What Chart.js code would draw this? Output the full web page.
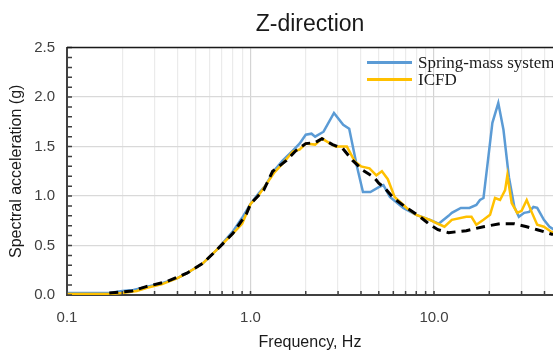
<!DOCTYPE html>
<html>
<head>
<meta charset="utf-8">
<script src="https://cdn.jsdelivr.net/npm/chart.js@4"></script>
<style>
  body { margin: 0; background: #fff; overflow: hidden; }
  #wrap { position: relative; width: 553px; height: 352px; }
  #legend { position: absolute; left: 367px; top: 54px; margin: 0; padding: 0; list-style: none;
    font: 17px "Liberation Serif", "Times New Roman", serif; color: #1a1a1a; white-space: nowrap; }
  #legend li { display: flex; align-items: center; height: 17.3px; }
  #legend .swatch { display: inline-block; width: 45px; height: 3px; margin-right: 6px; }
</style>
</head>
<body>
<div id="wrap">
  <canvas id="grafico"></canvas>
  <ul id="legend"></ul>
</div>
<script>
// Spring-mass system (blue)
const springFreq = [0.1, 0.15, 0.17, 0.2, 0.23, 0.27, 0.33, 0.4, 0.45, 0.55, 0.65, 0.8, 0.9, 1.0, 1.1, 1.2, 1.35, 1.5, 1.7, 1.85,
  2.0, 2.15, 2.25, 2.5, 2.85, 3.2, 3.45, 3.8, 4.1, 4.5, 5.0, 5.3, 5.75, 6.8, 8.0, 9.5, 10.6, 12, 12.5, 14, 15.6, 17, 17.8, 18.6,
  19.5, 20.8, 22.4, 23.9, 25.6, 27.4, 29, 31, 33, 34.8, 36.5, 39.7, 42.6, 45, 50];
const springAcc = [0.02, 0.02, 0.02, 0.04, 0.05, 0.08, 0.12, 0.17, 0.22, 0.32, 0.45, 0.64, 0.78, 0.92, 1.02, 1.1, 1.26, 1.36, 1.46, 1.53,
  1.62, 1.63, 1.60, 1.65, 1.84, 1.72, 1.68, 1.30, 1.04, 1.04, 1.09, 1.11, 0.99, 0.88, 0.81, 0.76, 0.72, 0.80, 0.83, 0.88, 0.88, 0.91, 0.96, 0.98,
  1.30, 1.74, 1.94, 1.67, 1.19, 0.89, 0.79, 0.83, 0.84, 0.89, 0.88, 0.76, 0.69, 0.66, 0.64];

// ICFD (yellow)
const icfdFreq = [0.1, 0.17, 0.2, 0.24, 0.27, 0.33, 0.4, 0.45, 0.55, 0.65, 0.8, 0.9, 1.0, 1.1, 1.2, 1.35, 1.5, 1.7, 1.85, 2.0,
  2.25, 2.45, 2.9, 3.35, 3.7, 4.0, 4.45, 4.85, 5.2, 5.6, 6.1, 7.1, 8.0, 9.5, 10.5, 11.4, 12.5, 15, 16, 17, 18.6, 20.2, 21.5, 22.9,
  24.4, 25.1, 26.5, 28.4, 30, 32, 34.2, 36.5, 39.7, 43.5, 50];
const icfdAcc = [0.01, 0.01, 0.02, 0.04, 0.07, 0.11, 0.17, 0.22, 0.32, 0.45, 0.62, 0.72, 0.92, 1.0, 1.1, 1.24, 1.33, 1.45, 1.47, 1.53,
  1.52, 1.58, 1.50, 1.50, 1.35, 1.30, 1.28, 1.21, 1.25, 1.17, 0.99, 0.88, 0.81, 0.76, 0.72, 0.69, 0.76, 0.79, 0.79, 0.71, 0.76, 0.81, 0.98, 0.96,
  1.06, 1.21, 0.93, 0.83, 0.85, 0.96, 0.83, 0.71, 0.69, 0.64, 0.62];

// dashed black reference curve (no legend entry)
const targetFreq = [0.17, 0.2, 0.226, 0.27, 0.35, 0.45, 0.55, 0.65, 0.8, 0.95, 1.0, 1.18, 1.32, 1.57, 1.77, 2.0, 2.25, 2.45, 2.8, 3.18,
  3.6, 4.1, 4.7, 5.0, 5.4, 6.0, 7.1, 8.4, 9.5, 10.5, 12, 15, 18.6, 22.9, 27.4, 32, 36.5, 39.7, 44.5, 50];
const targetAcc = [0.02, 0.03, 0.04, 0.085, 0.135, 0.22, 0.32, 0.45, 0.62, 0.82, 0.92, 1.06, 1.25, 1.36, 1.46, 1.53, 1.54, 1.58, 1.52, 1.48,
  1.36, 1.26, 1.19, 1.13, 1.08, 0.98, 0.88, 0.79, 0.71, 0.66, 0.63, 0.65, 0.69, 0.72, 0.72, 0.69, 0.66, 0.64, 0.61, 0.58];

const xMin = 0.1;
const xMax = 44.5;
const yMax = 2.5;

function toPoints(xs, ys) {
  return xs.map((x, i) => ({ x, y: ys[i] }));
}

function isDecade(v) {
  const l = Math.log10(v);
  return Math.abs(l - Math.round(l)) < 1e-9;
}

function isHalf(v) {
  return Math.abs(v * 2 - Math.round(v * 2)) < 1e-6;
}

// small inward tick marks and the top frame line
const frameTicks = {
  id: 'frameTicks',
  afterDraw(chart) {
    const { ctx, chartArea, scales } = chart;
    ctx.save();
    ctx.strokeStyle = '#404040';
    ctx.lineWidth = 1.5;
    ctx.beginPath();
    scales.y.ticks.forEach((t) => {
      const py = scales.y.getPixelForValue(t.value);
      ctx.moveTo(chartArea.left, py);
      ctx.lineTo(chartArea.left + 5, py);
    });
    scales.x.ticks.forEach((t) => {
      const px = scales.x.getPixelForValue(t.value);
      ctx.moveTo(px, chartArea.bottom);
      ctx.lineTo(px, chartArea.bottom - 4);
    });
    ctx.stroke();
    ctx.strokeStyle = '#1a1a1a';
    ctx.beginPath();
    ctx.moveTo(chartArea.left, chartArea.top);
    ctx.lineTo(chartArea.right, chartArea.top);
    ctx.stroke();
    ctx.restore();
  }
};

const chart = new Chart(document.getElementById('grafico'), {
  type: 'line',
  data: {
    datasets: [{
      label: 'Spring-mass system',
      data: toPoints(springFreq, springAcc),
      borderColor: '#5B9BD5',
      backgroundColor: '#5B9BD5',
      borderWidth: 2.5,
      order: 3
    }, {
      label: 'ICFD',
      data: toPoints(icfdFreq, icfdAcc),
      borderColor: '#FFC000',
      backgroundColor: '#FFC000',
      borderWidth: 2.5,
      order: 2
    }, {
      label: '',
      data: toPoints(targetFreq, targetAcc),
      borderColor: '#000000',
      backgroundColor: '#000000',
      borderWidth: 3,
      borderDash: [9, 6],
      order: 1
    }]
  },
  options: {
    responsive: true,
    maintainAspectRatio: false,
    animation: false,
    elements: { point: { radius: 0 }, line: { tension: 0 } },
    layout: { padding: 0 },
    plugins: {
      legend: { display: false },
      tooltip: { enabled: false },
      title: {
        display: true,
        text: 'Z-direction',
        fullSize: false,
        color: '#1a1a1a',
        font: { family: '"Liberation Sans", Arial, sans-serif', size: 23, weight: 'normal' },
        padding: { top: 11, bottom: 9 }
      }
    },
    scales: {
      x: {
        type: 'logarithmic',
        min: xMin,
        max: xMax,
        afterFit(scale) {
          scale.height = 57;
          scale.paddingLeft = 0;
          scale.paddingRight = 0;
        },
        afterBuildTicks(scale) {
          scale.ticks = scale.ticks.filter((t) => {
            const m = t.value / Math.pow(10, Math.floor(Math.log10(t.value) + 1e-9));
            return Math.abs(m - Math.round(m)) < 1e-6;
          });
        },
        border: { display: true, color: '#404040', width: 2 },
        grid: {
          drawTicks: false,
          color: (ctx) => (ctx.tick && isDecade(ctx.tick.value) ? '#d4d4d4' : '#ebebeb'),
          lineWidth: 1.2
        },
        ticks: {
          autoSkip: false,
          maxRotation: 0,
          padding: 14,
          color: '#404040',
          font: { family: '"Liberation Sans", Arial, sans-serif', size: 15 },
          callback: (v) => (isDecade(v) ? Number(v).toFixed(1) : '')
        },
        title: {
          display: true,
          text: 'Frequency, Hz',
          color: '#1a1a1a',
          font: { family: '"Liberation Sans", Arial, sans-serif', size: 16 },
          padding: { top: 0, bottom: 0 }
        }
      },
      y: {
        min: 0,
        max: yMax,
        afterFit(scale) { scale.width = 67; },
        border: { display: true, color: '#404040', width: 2 },
        grid: {
          drawTicks: false,
          color: (ctx) => (ctx.tick && isHalf(ctx.tick.value) ? '#d9d9d9' : 'rgba(0,0,0,0)'),
          lineWidth: 1.2
        },
        ticks: {
          stepSize: 0.1,
          autoSkip: false,
          padding: 12,
          color: '#404040',
          font: { family: '"Liberation Sans", Arial, sans-serif', size: 15 },
          callback: (v) => (isHalf(v) ? Number(v).toFixed(1) : '')
        },
        title: {
          display: true,
          text: 'Spectral acceleration (g)',
          color: '#1a1a1a',
          font: { family: '"Liberation Sans", Arial, sans-serif', size: 16 },
          padding: { top: 7, bottom: 0 }
        }
      }
    }
  },
  plugins: [frameTicks]
});

// legend kept as HTML, built from the chart's datasets
const legendEl = document.getElementById('legend');
chart.data.datasets.filter((d) => d.label).forEach((d) => {
  const li = document.createElement('li');
  const sw = document.createElement('span');
  sw.className = 'swatch';
  sw.style.background = d.borderColor;
  li.appendChild(sw);
  li.appendChild(document.createTextNode(d.label));
  legendEl.appendChild(li);
});
</script>
</body>
</html>
